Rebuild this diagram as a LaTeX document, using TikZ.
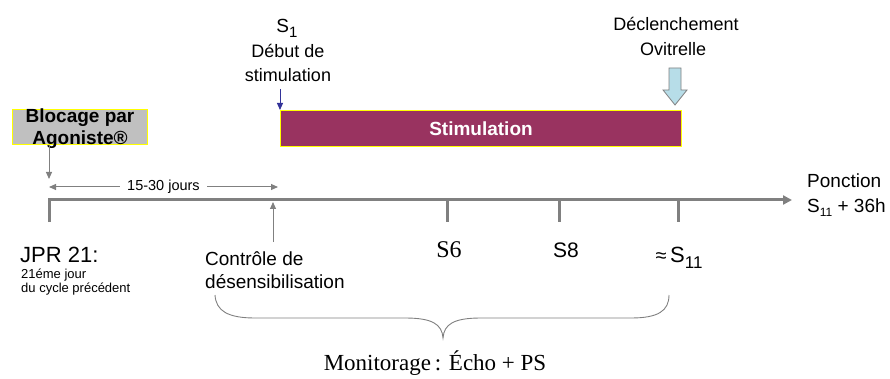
\documentclass[tikz,border=0pt]{standalone}
\usepackage{fontspec}
\setmainfont{Liberation Sans}
\newfontfamily\timesf{Liberation Serif}
\usetikzlibrary{arrows.meta}
\definecolor{lgrey}{RGB}{128,128,128}
\definecolor{boxgrey}{RGB}{192,192,192}
\definecolor{stimcol}{RGB}{153,51,96}
\definecolor{darkblue}{RGB}{51,51,153}
\definecolor{lcyan}{RGB}{183,221,232}
\definecolor{byellow}{RGB}{255,255,0}
\newcommand{\fs}[1]{\fontsize{#1}{#1}\selectfont}
\tikzset{
  txt/.style={inner sep=0pt, anchor=base},
  txtw/.style={inner sep=0pt, anchor=base west},
  axis/.style={draw=lgrey, line width=3pt},
  thinarrow/.style={draw=lgrey, line width=1pt, -{Triangle[width=6pt,length=7pt]}},
}
\begin{document}
\begin{tikzpicture}[x=1pt,y=-1pt]
\useasboundingbox (0,0) rectangle (890,379);

% Blocage box
\node[draw=byellow, fill=boxgrey, line width=1pt, minimum width=135pt, minimum height=35pt, inner sep=0pt, anchor=north west] (bloc) at (12,109) {};
\node[txt, font=\fs{19}\bfseries] (bloc1) at (80,123) {Blocage par};
\node[txt, font=\fs{19}\bfseries] (bloc2) at (80,145) {Agoniste®};

% Stimulation bar
\node[draw=byellow, fill=stimcol, line width=1pt, minimum width=401pt, minimum height=36pt, inner sep=0pt, anchor=north west, text=white, font=\fs{19}\bfseries] (stim) at (280,110) {Stimulation};

% S1 labels
\node[txt, font=\fs{19}] (s1) at (287,33) {S\raisebox{-0.25em}{\fs{15}1}};
\node[txt, font=\fs{18}] (debut) at (288,58) {Début de};
\node[txt, font=\fs{18}] (stimtxt) at (288,82) {stimulation};
\coordinate (bluetop) at (280,89);
\draw[darkblue, line width=1pt, -{Triangle[width=6pt,length=7pt]}] (bluetop) -- (stim.north west);

% Declenchement
\node[txt, font=\fs{18}] (decl) at (676,31) {Déclenchement};
\node[txt, font=\fs{18}] (ovit) at (673,56) {Ovitrelle};
\draw[draw=lgrey, fill=lcyan, line width=0.8pt]
  (669,68) -- (681,68) -- (681,90) -- (687,90) -- (675,105) -- (663,90) -- (669,90) -- cycle;

% Timeline
\coordinate (t0) at (49,222);
\coordinate (t1) at (49,200);
\coordinate (tend) at (792,200);
\draw[axis, -{Triangle[width=9pt,length=9pt]}] (t0) -- (t1) -- (tend);
\coordinate (s6a) at (447,200); \coordinate (s6b) at (447,222);
\coordinate (s8a) at (559,200); \coordinate (s8b) at (559,222);
\coordinate (s11a) at (678,200); \coordinate (s11b) at (678,222);
\draw[axis] (s6a) -- (s6b);
\draw[axis] (s8a) -- (s8b);
\draw[axis] (s11a) -- (s11b);

% Blocage arrow
\coordinate (blocdown) at (49,179);
\draw[thinarrow] (bloc.south west -| blocdown) -- (blocdown);

% 15-30 jours
\coordinate (d1) at (49,187);
\coordinate (d2) at (278,187);
\draw[draw=lgrey, line width=1pt, {Triangle[width=6pt,length=7pt]}-{Triangle[width=6pt,length=7pt]}] (d1) -- node[fill=white, inner xsep=7pt, inner ysep=1pt, font=\fs{14.5}] (jours) {15-30 jours} (d2);

% Controle arrow
\coordinate (ctrlbot) at (273,242);
\coordinate (ctrltop) at (273,202);
\draw[thinarrow] (ctrlbot) -- (ctrltop);

% Lower labels
\node[txtw, font=\fs{22}] (jpr) at (20,262) {JPR 21:};
\node[txtw, font=\fs{13}] (jpr2) at (21,278) {21éme jour};
\node[txtw, font=\fs{13}] (jpr3) at (21,292) {du cycle précédent};
\node[txtw, font=\fs{19}] (ctrl1) at (205,265) {Contrôle de};
\node[txtw, font=\fs{19}] (ctrl2) at (205,288) {désensibilisation};
\node[txt, font=\timesf\fs{24}] (s6) at (449,257) {S6};
\node[txt, font=\fs{21}] (s8) at (566,257) {S8};
\node[txt, font=\fs{22}] (s11) at (679,262) {{\fs{20}≈}\,S\raisebox{-0.28em}{\fs{17}11}};
\node[txtw, font=\fs{19}] (ponc1) at (807,188) {Ponction};
\node[txtw, font=\fs{19}] (ponc2) at (807,213) {S\raisebox{-0.2em}{\fs{12}11} + 36h};

% Brace
\draw[lgrey, line width=0.9pt]
  (215,295) .. controls (216,311) and (228,318) .. (255,318)
  -- (405,318) .. controls (432,318) and (442,324) .. (443,338)
  .. controls (444,324) and (454,318) .. (481,318)
  -- (631,318) .. controls (658,318) and (669,311) .. (669,295);
\node[txt, font=\timesf\fs{23}] (monit) at (435,370) {Monitorage\,: Écho + PS};
\end{tikzpicture}
\end{document}
